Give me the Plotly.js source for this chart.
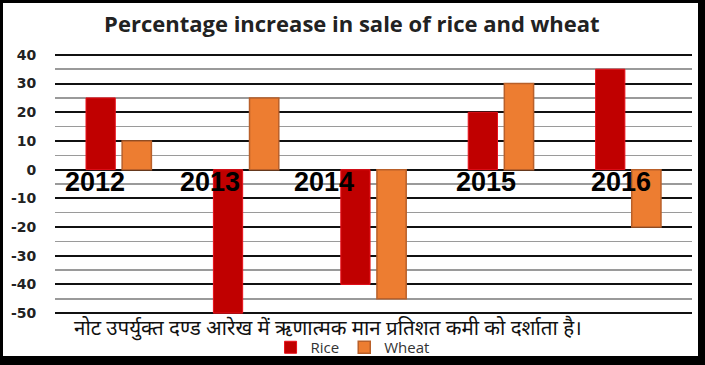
<!DOCTYPE html>
<html>
<head>
<meta charset="utf-8">
<script src="https://cdn.plot.ly/plotly-3.0.1.min.js"></script>
<style>
  html, body { margin: 0; padding: 0; background: #000; width: 705px; height: 365px; overflow: hidden; }
  #chart { position: absolute; left: 3px; top: 3px; width: 695px; height: 353px; background: #fff; }
</style>
</head>
<body>
<div id="chart"></div>
<script>
// ---- data ----
const years = ['2012', '2013', '2014', '2015', '2016'];
const rice = [25, -50, -40, 20, 35];
const wheat = [10, 25, -45, 30, -20];
const yTicks = [40, 30, 20, 10, 0, -10, -20, -30, -40, -50];
const titleText = 'Percentage increase in sale of rice and wheat';
const noteText = 'नोट उपर्युक्त दण्ड आरेख में ऋणात्मक मान प्रतिशत कमी को दर्शाता है।';

// ---- layout helpers ----
const labelShift = [-24, -36, -50, -15, -7];

const traces = [
  {
    type: 'bar', name: 'Rice', x: years, y: rice,
    marker: { color: '#C00000', line: { color: '#E8101A', width: 1 } },
    hoverinfo: 'skip'
  },
  {
    type: 'bar', name: 'Wheat', x: years, y: wheat,
    marker: { color: '#ED7D31', line: { color: '#B9602A', width: 1.5 } },
    hoverinfo: 'skip'
  }
];

const annotations = years.map((yr, i) => ({
  x: i, y: 0, xref: 'x', yref: 'y',
  text: yr, showarrow: false,
  xshift: labelShift[i], yshift: -12,
  xanchor: 'center', yanchor: 'middle',
  font: { family: 'Liberation Sans, Arial, sans-serif', size: 27, color: '#000', weight: 'bold' }
}));
annotations.push({
  x: 0.027, y: -0.043, xref: 'paper', yref: 'paper',
  text: noteText, showarrow: false, xanchor: 'left', yanchor: 'middle',
  font: { family: 'Noto Sans, Noto Sans Devanagari, sans-serif', size: 20.5, color: '#111' }
});

const layout = {
  width: 695, height: 353,
  margin: { l: 52, r: 6, t: 49, b: 40 },
  paper_bgcolor: '#fff', plot_bgcolor: '#fff',
  title: {
    text: titleText, xref: 'container', x: 0.502, xanchor: 'center',
    yref: 'container', y: 0.94, yanchor: 'middle',
    font: { family: 'Open Sans, sans-serif', size: 22, color: '#222', weight: 'bold' }
  },
  barmode: 'group', bargap: 0.433, bargroupgap: 0.19,
  showlegend: true,
  legend: {
    orientation: 'h', xref: 'container', yref: 'container',
    x: 0.385, xanchor: 'left', y: 0.024, yanchor: 'middle',
    font: { family: 'Open Sans, sans-serif', size: 15, color: '#333' },
    itemwidth: 30, tracegroupgap: 0, bgcolor: 'rgba(0,0,0,0)'
  },
  xaxis: {
    type: 'category', range: [-0.5, 4.5], autorange: false,
    showticklabels: false, showgrid: false, zeroline: false,
    showline: false, ticks: ''
  },
  yaxis: {
    range: [-51, 41], autorange: false, tickvals: yTicks, ticktext: yTicks.map(String),
    showgrid: true, gridcolor: '#111', gridwidth: 2,
    minor: { dtick: 5, tick0: 0, showgrid: true, gridcolor: '#9a9a9a', gridwidth: 1.5, ticks: '' },
    zeroline: false, showline: false,
    ticks: 'outside', ticklen: 15, tickcolor: 'rgba(0,0,0,0)',
    tickfont: { family: 'DejaVu Sans, sans-serif', size: 14, color: '#222', weight: 'bold' }
  },
  annotations: annotations
};

Plotly.newPlot('chart', traces, layout, { displayModeBar: false, staticPlot: true });
</script>
</body>
</html>
